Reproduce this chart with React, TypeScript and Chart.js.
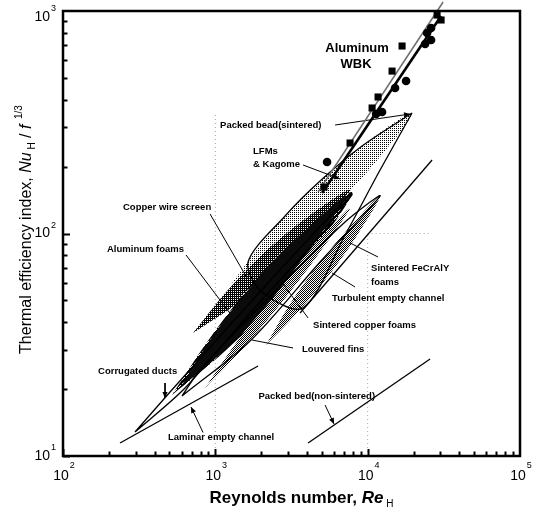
import { useEffect, useRef } from 'react';
import { Chart, registerables } from 'chart.js';

Chart.register(...registerables);

type Pt = [number, number];

// Axis ranges: Reynolds number Re_H (x) and thermal efficiency index Nu_H / f^1/3 (y)
const reRange: Pt = [1e2, 1e5];
const indexRange: Pt = [1e1, 1e3];
const reDecades = [2, 3, 4, 5];
const indexDecades = [1, 2, 3];

// Aluminum WBK measurements
const wbkSquares: Pt[] = [
  [5173, 161.8], [7663, 255.1], [10690, 366.5], [11700, 410.7],
  [14460, 537], [16820, 696], [28550, 959], [30340, 911],
];
const wbkCircles: Pt[] = [
  [5413, 209.6], [11360, 344.4], [12430, 351.6], [15130, 450.7],
  [17870, 484.6], [23820, 710.6], [24550, 796], [26080, 741], [26080, 838.6],
];
const wbkFitUpper: Pt[] = [[4725, 153.6], [31270, 1097.5]];
const wbkFitLower: Pt[] = [[5020, 152], [30340, 949.5]];

// Correlation lines
const laminarChannel: Pt[] = [[236.8, 11.44], [1907, 25.38]];
const turbulentChannel: Pt[] = [[3600, 43.92], [26480, 213.96]];
const packedBedNonSintered: Pt[] = [[4062, 11.44], [25690, 27.29]];

// Shaded regions (closed outlines)
const lfmKagome: Pt[] = [
  [1287, 59.9], [2287, 100.5], [4316, 160.2], [8783, 242.3], [19270, 344.4],
  [11015, 205.3], [5750, 128.9], [2825, 86.07], [1287, 59.9],
];
const copperWireScreen: Pt[] = [
  [713.8, 35.71], [1193, 55.16], [2088, 81.73], [3882, 116.2], [7663, 156.9],
  [4654, 101.5], [2620, 68.54], [1410, 48.71], [713.8, 35.71],
];
const metalFoamBand: Pt[] = [
  [519.7, 18.8], [923, 33.91], [1742, 59.29], [3545, 97.46], [7899, 153.6],
  [4514, 84.3], [2393, 48.71], [1158, 29.64], [519.7, 18.8],
];
const aluminumFoams: Pt[] = [
  [586.4, 20.21], [951.3, 34.26], [1640, 55.73], [3047, 87.87], [7106, 145.9],
  [3765, 77.61], [2186, 47.72], [1176, 30.26], [586.4, 20.21],
];
const sinteredCopperFoams: Pt[] = [
  [856, 20.21], [1410, 33.21], [2393, 53.47], [4186, 84.3], [7663, 130.2],
  [4654, 79.23], [2741, 49.21], [1567, 31.21], [856, 20.21],
];
const feCrAlYFoams: Pt[] = [
  [2152, 31.54], [3094, 48.21], [4654, 71.43], [7323, 103.7], [12060, 147.4],
  [8390, 96.45], [5579, 65.09], [3545, 44.85], [2152, 31.54],
];

// Open (outlined) regions
const corrugatedDucts: Pt[] = [
  [297, 12.82], [504.2, 19.39], [1249, 38.8], [3600, 86.07], [7899, 150.5],
  [4869, 97.46], [1690, 43.92], [632.6, 20.21], [297, 12.82],
];
const louveredFins: Pt[] = [
  [604.5, 18.61], [1690, 32.88], [4869, 74.45], [12060, 147.4],
  [7106, 112.6], [2287, 52.38], [793.5, 24.35], [604.5, 18.61],
];
const packedBeadSintered: Pt[] = [
  [19560, 348], [12060, 192.9], [7106, 98.47], [3765, 46.26], [2026, 54.59],
  [1640, 74.45], [2869, 119.9], [4869, 172.2], [9188, 247.4], [19560, 348],
];

// Faint reference lines
const guideRe1e3: Pt[] = [[1000, 10], [1000, 350]];
const guideRe1e4: Pt[] = [[10000, 10], [10000, 100]];
const guideIndex100: Pt[] = [[10000, 100], [26000, 100]];

// Leader lines from captions: [from, to]
const leaderPackedBead: Pt[] = [[6109, 307.3], [18985, 344.4]];
const leaderLfm: Pt[] = [[3765, 203.2], [6589, 175.8]];
const leaderWireScreen: Pt[] = [[923, 122.4], [1615, 63.1]];
const leaderAlFoams: Pt[] = [[642.1, 80.06], [1230, 44.38]];
const leaderFeCrAlY: Pt[] = [[11700, 78.41], [7663, 90.64]];
const leaderTurbulent: Pt[] = [[8266, 57.49], [5838, 66.45]];
const leaderCuFoams: Pt[] = [[4062, 41.71], [2783, 59.29]];
const leaderLouvered: Pt[] = [[3238, 30.58], [1742, 33.21]];
const leaderCorrugated: Pt[] = [[467.4, 21.29], [467.4, 18.23]];
const leaderLaminar: Pt[] = [[830.2, 12.76], [692.5, 16.6]];
const leaderPackedBed: Pt[] = [[5252, 16.95], [6017, 13.93]];

// Captions: text, anchor [Re, index], alignment
const captionTexts = [
  'Aluminum', 'WBK', 'Packed bead(sintered)', 'LFMs', '& Kagome',
  'Copper wire screen', 'Aluminum foams', 'Sintered FeCrAlY', 'foams',
  'Turbulent empty channel', 'Sintered copper foams', 'Louvered fins',
  'Corrugated ducts', 'Packed bed(non-sintered)', 'Laminar empty channel',
];
const captionAnchors: Pt[] = [
  [8518, 681.9], [8390, 577.8], [1074, 307.3], [1768, 234.9], [1768, 205.3],
  [247.7, 131.6], [194.5, 85.2], [10530, 69.98], [10530, 60.53],
  [5838, 51.3], [4380, 38.8], [3710, 30.26],
  [169.8, 24.1], [11180, 18.61], [489.1, 12.17],
];
const captionAlign: CanvasTextAlign[] = [
  'center', 'center', 'left', 'left', 'left',
  'left', 'left', 'left', 'left',
  'left', 'left', 'left',
  'left', 'right', 'left',
];

const FONT = '"Liberation Sans", Arial, sans-serif';

const pts = (a: Pt[]) => a.map(([x, y]) => ({ x, y }));

function makePattern(ctx: CanvasRenderingContext2D, rows: string[]): CanvasPattern {
  const h = rows.length;
  const w = rows[0].length;
  const tile = document.createElement('canvas');
  tile.width = w;
  tile.height = h;
  const g = tile.getContext('2d')!;
  g.fillStyle = '#fff';
  g.fillRect(0, 0, w, h);
  g.fillStyle = '#000';
  rows.forEach((r, y) => r.split('').forEach((c, x) => { if (c === '#') g.fillRect(x, y, 1, 1); }));
  return ctx.createPattern(tile, 'repeat')!;
}

type Run = { t: string; font: string; dy: number };

function drawRuns(ctx: CanvasRenderingContext2D, runs: Run[], x: number, y: number) {
  let cx = x;
  for (const r of runs) {
    ctx.font = r.font;
    ctx.fillText(r.t, cx, y + r.dy);
    cx += ctx.measureText(r.t).width;
  }
}
function runsWidth(ctx: CanvasRenderingContext2D, runs: Run[]) {
  let w = 0;
  for (const r of runs) { ctx.font = r.font; w += ctx.measureText(r.t).width; }
  return w;
}

const decorPlugin = {
  id: 'decor',
  afterDatasetsDraw(chart: any) {
    const ctx: CanvasRenderingContext2D = chart.ctx;
    const xs = chart.scales.x;
    const ys = chart.scales.y;
    const { left, right, top, bottom } = chart.chartArea;
    ctx.save();

    // arrowheads on leader lines
    chart.data.datasets.forEach((ds: any, i: number) => {
      if (!ds.arrowHead) return;
      const el = chart.getDatasetMeta(i).data;
      const a = el[el.length - 2];
      const b = el[el.length - 1];
      const ang = Math.atan2(b.y - a.y, b.x - a.x);
      const L = 6, W = 2.6;
      ctx.fillStyle = '#000';
      ctx.beginPath();
      ctx.moveTo(b.x, b.y);
      ctx.lineTo(b.x - L * Math.cos(ang) + W * Math.sin(ang), b.y - L * Math.sin(ang) - W * Math.cos(ang));
      ctx.lineTo(b.x - L * Math.cos(ang) - W * Math.sin(ang), b.y - L * Math.sin(ang) + W * Math.cos(ang));
      ctx.closePath();
      ctx.fill();
    });

    // frame
    ctx.strokeStyle = '#000';
    ctx.lineWidth = 2.5;
    ctx.strokeRect(left, top, right - left, bottom - top);

    // inward tick marks
    ctx.lineWidth = 2;
    ctx.beginPath();
    for (let d = reDecades[0]; d < reDecades[reDecades.length - 1]; d++) {
      for (let m = 1; m <= 9; m++) {
        const px = Math.round(xs.getPixelForValue(m * 10 ** d)) + 0.5;
        const len = m === 1 ? 7 : 4.5;
        ctx.moveTo(px, bottom);
        ctx.lineTo(px, bottom - len);
      }
    }
    for (let d = indexDecades[0]; d < indexDecades[indexDecades.length - 1]; d++) {
      for (let m = 1; m <= 9; m++) {
        const py = Math.round(ys.getPixelForValue(m * 10 ** d)) + 0.5;
        const len = m === 1 ? 7 : 4.5;
        ctx.moveTo(left, py);
        ctx.lineTo(left + len, py);
      }
    }
    ctx.stroke();

    // tick labels 10^n
    ctx.fillStyle = '#000';
    ctx.textBaseline = 'middle';
    for (const d of reDecades) {
      const px = xs.getPixelForValue(10 ** d);
      ctx.font = `14px ${FONT}`;
      ctx.textAlign = 'center';
      const w = ctx.measureText('10').width;
      ctx.fillText('10', px - 2, bottom + 20);
      ctx.font = `9px ${FONT}`;
      ctx.textAlign = 'left';
      ctx.fillText(String(d), px - 2 + w / 2 + 1, bottom + 10);
    }
    for (const d of indexDecades) {
      const py = Math.max(ys.getPixelForValue(10 ** d), top + 6);
      ctx.font = `14px ${FONT}`;
      ctx.textAlign = 'right';
      ctx.fillText('10', left - 13, py);
      ctx.font = `9px ${FONT}`;
      ctx.textAlign = 'left';
      ctx.fillText(String(d), left - 12, py - 8);
    }

    // captions
    captionTexts.forEach((t, i) => {
      const [re, v] = captionAnchors[i];
      const big = i < 2;
      ctx.font = `bold ${big ? 13 : 9.5}px ${FONT}`;
      ctx.textAlign = captionAlign[i];
      ctx.fillText(t, xs.getPixelForValue(re), ys.getPixelForValue(v));
    });

    // x-axis title
    ctx.textAlign = 'left';
    ctx.textBaseline = 'alphabetic';
    const xRuns: Run[] = [
      { t: 'Reynolds number, ', font: `bold 17px ${FONT}`, dy: 0 },
      { t: 'Re', font: `italic bold 17px ${FONT}`, dy: 0 },
      { t: ' H', font: `10px ${FONT}`, dy: 4 },
    ];
    const xw = runsWidth(ctx, xRuns);
    drawRuns(ctx, xRuns, (left + right) / 2 + 10 - xw / 2, bottom + 47);

    // y-axis title
    const yRuns: Run[] = [
      { t: 'Thermal efficiency index, ', font: `16px ${FONT}`, dy: 0 },
      { t: 'Nu', font: `italic 16px ${FONT}`, dy: 0 },
      { t: ' H', font: `10px ${FONT}`, dy: 4 },
      { t: ' / ', font: `16px ${FONT}`, dy: 0 },
      { t: 'f', font: `italic 16px ${FONT}`, dy: 0 },
      { t: '  1/3', font: `10px ${FONT}`, dy: -9 },
    ];
    const yw = runsWidth(ctx, yRuns);
    ctx.translate(31, (top + bottom) / 2 - 4);
    ctx.rotate(-Math.PI / 2);
    drawRuns(ctx, yRuns, -yw / 2, 0);

    ctx.restore();
  },
};

export default function App() {
  const ref = useRef<HTMLCanvasElement>(null);

  useEffect(() => {
    const canvas = ref.current!;
    const ctx = canvas.getContext('2d')!;
    const light = makePattern(ctx, ['#.', '..']);
    const mid = makePattern(ctx, ['#.', '.#']);
    const dark = makePattern(ctx, ['##', '#.']);
    const darker = makePattern(ctx, ['####', '.###', '###.', '##.#']);

    const region = (label: string, data: Pt[], bg: any) => ({
      label, data: pts(data), showLine: true, fill: 'shape', backgroundColor: bg,
      borderColor: 'rgba(0,0,0,0)', borderWidth: 0, pointRadius: 0, tension: 0.35,
    });
    const outline = (label: string, data: Pt[]) => ({
      label, data: pts(data), showLine: true, fill: false, borderColor: '#000',
      borderWidth: 1.3, pointRadius: 0, tension: 0.3,
    });
    const line = (label: string, data: Pt[], width: number, color = '#000', extra: any = {}) => ({
      label, data: pts(data), showLine: true, fill: false, borderColor: color,
      borderWidth: width, pointRadius: 0, tension: 0, ...extra,
    });
    const leader = (data: Pt[], head: boolean) => ({ ...line('leader', data, 1), arrowHead: head });
    const clipTop = { left: 0, top: 12, right: 0, bottom: 0 };

    const list: any[] = [
      line('guide', guideRe1e3, 1, '#a8a8a8', { borderDash: [1, 3] }),
      line('guide', guideRe1e4, 1, '#a8a8a8', { borderDash: [1, 3] }),
      line('guide', guideIndex100, 1, '#a8a8a8', { borderDash: [1, 3] }),
      region('LFMs & Kagome', lfmKagome, light),
      region('Copper wire screen', copperWireScreen, dark),
      region('Metal foams', metalFoamBand, darker),
      region('Sintered copper foams', sinteredCopperFoams, mid),
      region('Sintered FeCrAlY foams', feCrAlYFoams, mid),
      region('Aluminum foams', aluminumFoams, '#0b0b0b'),
      outline('Corrugated ducts', corrugatedDucts),
      outline('Louvered fins', louveredFins),
      outline('Packed bead (sintered)', packedBeadSintered),
      line('Laminar empty channel', laminarChannel, 1.3),
      line('Turbulent empty channel', turbulentChannel, 1.3),
      line('Packed bed (non-sintered)', packedBedNonSintered, 1.3),
      leader(leaderPackedBead, true),
      leader(leaderLfm, true),
      leader(leaderWireScreen, false),
      leader(leaderAlFoams, false),
      leader(leaderFeCrAlY, false),
      leader(leaderTurbulent, false),
      leader(leaderCuFoams, false),
      leader(leaderLouvered, false),
      leader(leaderCorrugated, true),
      leader(leaderLaminar, true),
      leader(leaderPackedBed, true),
      line('WBK fit', wbkFitUpper, 1.5, '#6e6e6e', { clip: clipTop }),
      line('WBK fit', wbkFitLower, 2.6, '#000', { clip: clipTop }),
      {
        label: 'Aluminum WBK', data: pts(wbkSquares), showLine: false, pointStyle: 'rect',
        pointRadius: 5, backgroundColor: '#000', borderWidth: 0,
      },
      {
        label: 'Aluminum WBK', data: pts(wbkCircles), showLine: false, pointStyle: 'circle',
        pointRadius: 4.3, backgroundColor: '#000', borderWidth: 0,
      },
    ];
    const datasets = list.map((d, i) => ({ ...d, order: list.length - i }));

    const chart = new Chart(canvas, {
      type: 'scatter',
      data: { datasets },
      options: {
        responsive: false,
        animation: false,
        devicePixelRatio: 1,
        events: [],
        layout: { padding: { left: 63, top: 11, right: 17, bottom: 55 } },
        scales: {
          x: { type: 'logarithmic', min: reRange[0], max: reRange[1], display: false },
          y: { type: 'logarithmic', min: indexRange[0], max: indexRange[1], display: false },
        },
        plugins: { legend: { display: false }, tooltip: { enabled: false } },
      } as any,
      plugins: [decorPlugin],
    });
    return () => chart.destroy();
  }, []);

  return (
    <div style={{ position: 'fixed', left: 0, top: 0, width: 537, height: 511, background: '#fff' }}>
      <canvas ref={ref} width={537} height={511} style={{ display: 'block' }} />
    </div>
  );
}
